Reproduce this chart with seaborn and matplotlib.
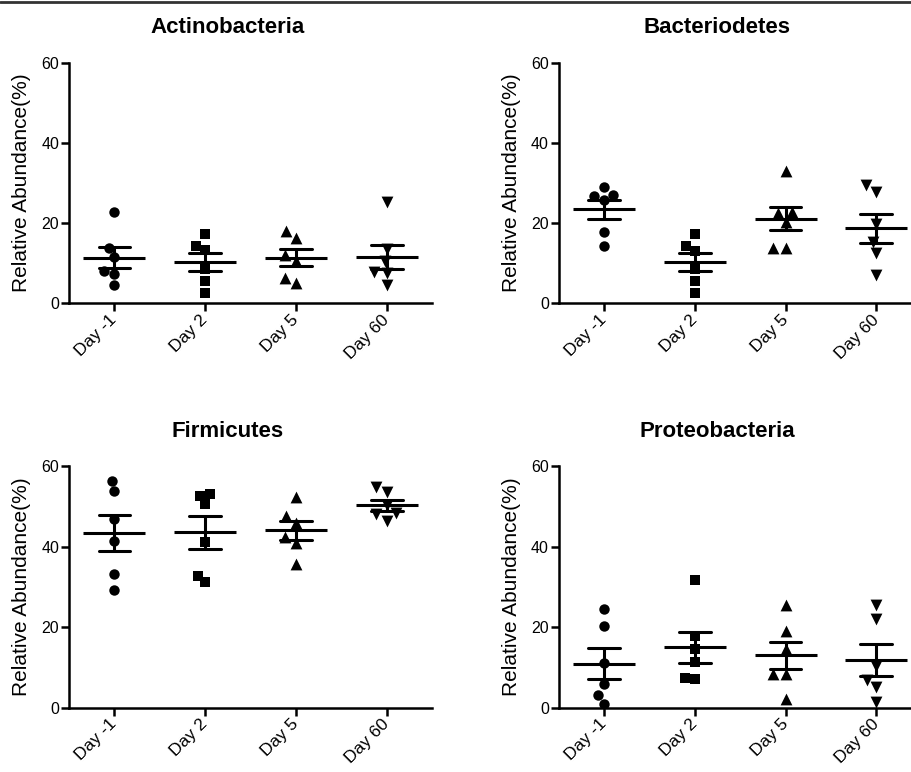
import pandas as pd
import matplotlib
matplotlib.use('Agg')
import matplotlib.pyplot as plt
import seaborn as sns
from matplotlib.lines import Line2D

days = ['Day -1', 'Day 2', 'Day 5', 'Day 60']
day_markers = ['o', 's', '^', 'v']
marker_sizes = [7.5, 7, 8.5, 8.5]
phyla = ['Actinobacteria', 'Bacteriodetes', 'Firmicutes', 'Proteobacteria']

# relative abundance (%) per day, six samples each
actinobacteria = [
    [22.8, 13.7, 11.5, 8.1, 7.3, 4.7],
    [17.2, 14.4, 13.3, 8.5, 5.6, 2.7],
    [18.1, 16.3, 12.0, 10.5, 6.4, 5.0],
    [25.3, 13.5, 10.5, 7.8, 7.6, 4.6],
]
bacteriodetes = [
    [28.9, 27.1, 26.7, 25.7, 17.7, 14.3],
    [17.2, 14.3, 13.1, 8.5, 5.6, 2.7],
    [33.0, 22.8, 22.6, 20.3, 13.9, 13.9],
    [29.6, 27.8, 19.7, 15.4, 12.6, 7.1],
]
firmicutes = [
    [56.3, 53.8, 46.8, 41.5, 33.1, 29.2],
    [53.0, 52.6, 50.5, 41.2, 32.7, 31.1],
    [52.2, 47.6, 45.9, 42.3, 40.8, 35.8],
    [54.9, 53.6, 50.3, 48.3, 48.0, 46.4],
]
proteobacteria = [
    [24.5, 20.3, 11.0, 5.8, 3.1, 0.9],
    [31.7, 17.9, 14.5, 11.3, 7.3, 7.1],
    [25.5, 19.0, 14.6, 8.3, 8.3, 2.1],
    [25.5, 21.9, 10.3, 6.9, 5.1, 1.3],
]
all_data = [actinobacteria, bacteriodetes, firmicutes, proteobacteria]


def to_frame(groups):
    rows = []
    for day, vals in zip(days, groups):
        for v in vals:
            rows.append({'day': day, 'value': v})
    return pd.DataFrame(rows)


sns.set_style('ticks')
plt.rcParams['font.family'] = ['Liberation Sans', 'DejaVu Sans']
plt.rcParams['text.color'] = 'black'
plt.rcParams['axes.labelcolor'] = 'black'
plt.rcParams['xtick.color'] = 'black'
plt.rcParams['ytick.color'] = 'black'
plt.rcParams['axes.edgecolor'] = 'black'

fig = plt.figure(figsize=(9.12, 7.72), dpi=100)
positions = [
    [0.0757, 0.607, 0.398, 0.312],
    [0.6126, 0.607, 0.398, 0.312],
    [0.0757, 0.0833, 0.398, 0.313],
    [0.6126, 0.0833, 0.398, 0.313],
]

for name, groups, pos in zip(phyla, all_data, positions):
    ax = fig.add_axes(pos)
    df = to_frame(groups)

    for day, mk, ms in zip(days, day_markers, marker_sizes):
        sns.swarmplot(data=df[df['day'] == day], x='day', y='value', order=days,
                      marker=mk, color='black', size=ms, ax=ax)

    # mean line with SEM whiskers
    sns.pointplot(data=df, x='day', y='value', order=days, errorbar='se',
                  markers='_', linestyles='none', color='black', capsize=0.35,
                  markersize=45, markeredgewidth=2.2,
                  err_kws={'linewidth': 2.2}, ax=ax)

    ax.set_xlim(-0.5, 3.5)
    ax.set_ylim(0, 60)
    ax.set_yticks([0, 20, 40, 60])
    ax.set_xlabel('')
    ax.set_ylabel('Relative Abundance(%)', fontsize=15)
    ax.yaxis.set_label_coords(-0.105, 0.5)
    ax.set_title(name, fontsize=16, fontweight='bold', x=0.437, pad=21)

    for side in ['top', 'right']:
        ax.spines[side].set_visible(False)
    for side in ['left', 'bottom']:
        ax.spines[side].set_linewidth(1.8)
    ax.tick_params(axis='both', width=1.8, length=6, color='black')
    ax.tick_params(axis='y', labelsize=11.5, pad=1)
    ax.tick_params(axis='x', labelsize=12.5, pad=4)
    for lbl in ax.get_xticklabels():
        lbl.set_rotation(45)
        lbl.set_ha('right')
        lbl.set_va('center')
        lbl.set_rotation_mode('anchor')

# thin frame line along the top edge
fig.add_artist(Line2D([0, 1], [0.998, 0.998], color='#333333', linewidth=2,
                      transform=fig.transFigure))

fig.savefig('out.png', dpi=100)
